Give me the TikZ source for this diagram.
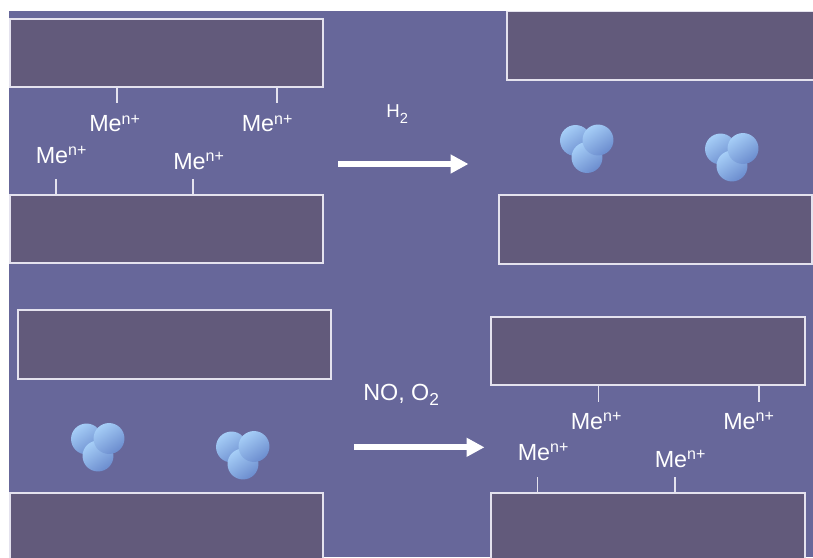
\documentclass[tikz,border=0pt]{standalone}
\usepackage{fontspec}
\setmainfont{Liberation Sans}
\usetikzlibrary{arrows.meta}
\definecolor{panel}{HTML}{67679A}
\definecolor{slabfill}{HTML}{625A7B}
\definecolor{slabedge}{HTML}{E4E2EE}
\definecolor{atomlight}{HTML}{A6CEF7}
\definecolor{atomdark}{HTML}{6B8CCE}
\newcommand\menion{{\fontsize{17.5}{17.5}\selectfont Me}\raisebox{5.5pt}{\fontsize{12}{12}\selectfont n+}}
\begin{document}
\begin{tikzpicture}[x=0.75pt,y=-0.75pt,
  slab/.style={fill=slabfill,draw=slabedge,line width=1pt},
  tick/.style={draw=slabedge,line width=1pt},
  lbl/.style={text=white,inner sep=0pt,anchor=base west},
  reaction/.style={draw=white,line width=4.5pt,-{Triangle[length=13.5pt,width=13.5pt]}},
  atom/.style={shading=axis,top color=atomlight,bottom color=atomdark,shading angle=35},
  cluster/.pic={
    \shade[atom] (-11.5,-17) circle[radius=11.6pt];
    \shade[atom] (0,0) circle[radius=11.6pt];
    \shade[atom] (11,-17.5) circle[radius=11.6pt];
  }]
\useasboundingbox (0,0) rectangle (813,557);
\fill[panel] (9,11) rectangle (813,557);

% ---------- reduction: ions between the slabs become clusters ----------
\draw[slab] (10,19) rectangle (323,87);
\draw[slab] (10,195) rectangle (323,263);
\draw[tick] (117,87) -- (117,103);
\draw[tick] (277,87) -- (277,103);
\draw[tick] (56,179) -- (56,195);
\draw[tick] (193,179) -- (193,195);
\node[lbl] (m1) at (89,131.7) {\menion};
\node[lbl] (m2) at (241.5,131.7) {\menion};
\node[lbl] (m3) at (35.5,163.3) {\menion};
\node[lbl] (m4) at (173,169.3) {\menion};

\coordinate (r1s) at (338,164);
\coordinate (r1e) at (468.5,164);
\draw[reaction] (r1s) -- (r1e);
\node[lbl] (h2) at (386,117) {\fontsize{14}{14}\selectfont H\raisebox{-4.7pt}{\fontsize{11}{11}\selectfont 2}};

\draw[slab] (507,11.5) rectangle (820,80);
\draw[slab] (499,195) rectangle (812,264);
\pic at (587,157.5) {cluster};
\pic at (732,166) {cluster};

% ---------- re-oxidation: clusters redisperse as ions ----------
\draw[slab] (18,310) rectangle (331,379);
\draw[slab] (10,493) rectangle (323,562);
\pic at (98,456) {cluster};
\pic at (243,464) {cluster};

\coordinate (r2s) at (354,447.3);
\coordinate (r2e) at (484.5,447.3);
\draw[reaction] (r2s) -- (r2e);
\node[lbl] (nox) at (363,400) {\fontsize{17.5}{17.5}\selectfont NO, O\raisebox{-3.75pt}{\fontsize{13}{13}\selectfont 2}};

\draw[slab] (491,317) rectangle (805,385);
\draw[slab] (491,493) rectangle (805,562);
\draw[tick] (598.7,385) -- (598.7,401.7);
\draw[tick] (759,385) -- (759,401.7);
\draw[tick] (537.3,477) -- (537.3,493);
\draw[tick] (675,477) -- (675,493);
\node[lbl] (m5) at (570.5,429.3) {\menion};
\node[lbl] (m6) at (723,429.3) {\menion};
\node[lbl] (m7) at (517.5,460.3) {\menion};
\node[lbl] (m8) at (654.5,467.3) {\menion};
\end{tikzpicture}
\end{document}
